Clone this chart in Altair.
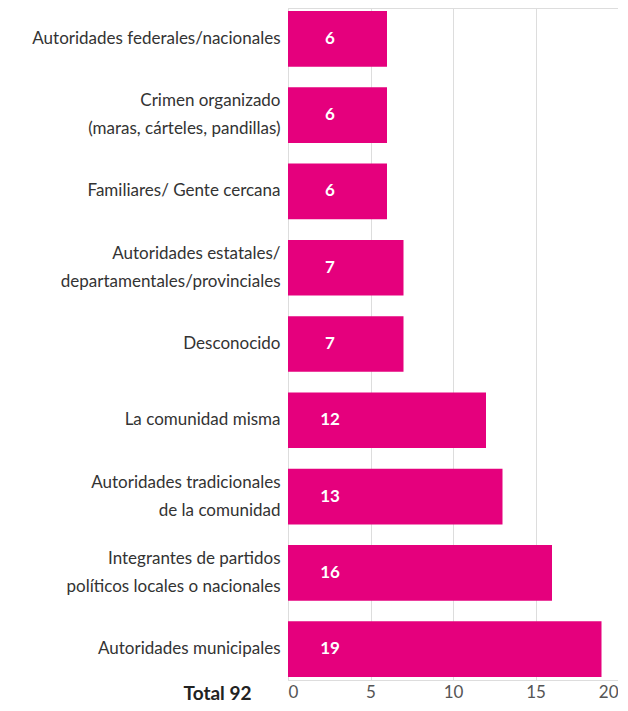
import altair as alt
import pandas as pd

categories = [
    "Autoridades federales/nacionales",
    "Crimen organizado|(maras, cárteles, pandillas)",
    "Familiares/ Gente cercana",
    "Autoridades estatales/|departamentales/provinciales",
    "Desconocido",
    "La comunidad misma",
    "Autoridades tradicionales|de la comunidad",
    "Integrantes de partidos|políticos locales o nacionales",
    "Autoridades municipales",
]
values = [6, 6, 6, 7, 7, 12, 13, 16, 19]
x_ticks = [0, 5, 10, 15, 20]
total_label = "Total 92"

df = pd.DataFrame({"cat": categories, "val": values})

W, H = 330, 672
MAGENTA = "#E5007D"

y_enc = alt.Y(
    "cat:N",
    sort=categories,
    scale=alt.Scale(paddingInner=0.27, paddingOuter=0.04),
    axis=alt.Axis(
        title=None,
        labelExpr="split(datum.label, '|')",
        labelOffset={"expr": "indexof(datum.label, '|') >= 0 ? -14 : 0"},
        labelFont="Lato",
        labelFontSize=17,
        labelColor="#333333",
        labelLineHeight=28,
        labelPadding=8,
        labelLimit=300,
        ticks=False,
        domainColor="#dddddd",
        grid=False,
        minExtent=280,
        maxExtent=280,
    ),
)

bars = alt.Chart(df).mark_bar(color=MAGENTA).encode(
    x=alt.X(
        "val:Q",
        scale=alt.Scale(domain=[0, 20], nice=False),
        axis=alt.Axis(
            values=x_ticks,
            title=total_label,
            titleFont="Lato",
            titleFontSize=19,
            titleFontWeight="bold",
            titleColor="#222222",
            titleAlign="right",
            titleAnchor="start",
            titleAngle=0,
            titleX=-37,
            titleY=13,
            titleBaseline="middle",
            labelFont="Lato",
            labelFontSize=17,
            labelColor="#555555",
            labelPadding=4,
            ticks=False,
            domain=False,
            grid=True,
            gridColor="#dddddd",
        ),
    ),
    y=y_enc,
)

labels = alt.Chart(df).mark_text(
    color="white",
    font="Lato",
    fontSize=17,
    fontWeight="bold",
    align="center",
    baseline="middle",
).encode(
    x=alt.value(42),
    y=alt.Y("cat:N", sort=categories),
    text="val:Q",
)

chart = (
    alt.layer(bars, labels)
    .properties(width=W, height=H)
    .configure_view(stroke=None)
    .configure(padding={"left": 0, "top": 0, "right": 0, "bottom": 0})
)

chart.save("out.html", embed_options={"renderer": "svg", "actions": False})
